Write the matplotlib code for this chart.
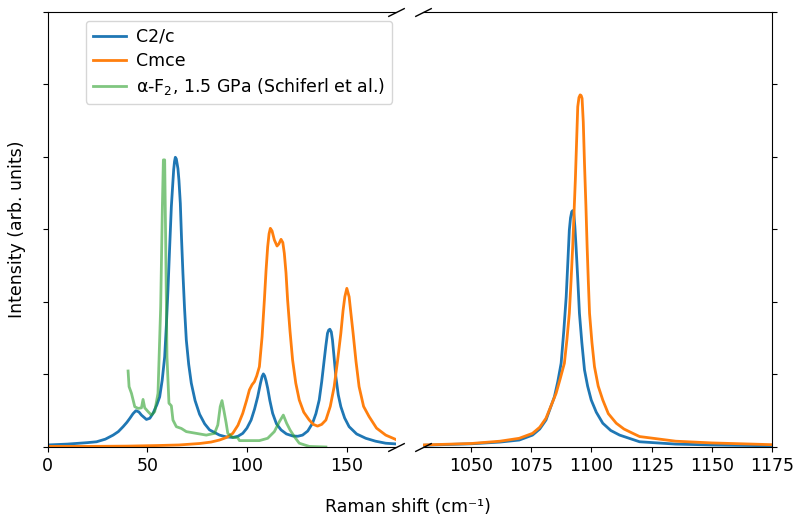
import matplotlib
matplotlib.use("Agg")
import matplotlib.pyplot as plt

# ---- data (Raman shift, normalised intensity) ----
c2c_low_x = [0, 10, 20, 24.6, 29, 32.9, 35.5, 37.9, 39.8, 41.3, 42.9, 44.3, 45.8, 47.1, 49.6, 51.3,
             52.9, 54.8, 56.25, 57.5, 58.75, 59.6, 60.4, 61.2, 62.1, 62.7, 63.25, 63.7, 64.1, 64.6,
             65.4, 65.9, 66.6, 67.2, 67.9, 68.7, 69.6, 70.8, 72.1, 74, 76.25, 78.8, 81.25, 86.25,
             89.5, 92.9, 95.5, 97.9, 100, 102.1, 103.8, 105.4, 106.8, 107.6, 108.25, 108.9, 109.6,
             110.4, 111.5, 112.9, 114.8, 117.1, 119.8, 122.9, 125.5, 127.9, 130.5, 132.9, 134.6,
             136.25, 137.5, 138.75, 139.6, 140.4, 141, 141.6, 142.3, 142.9, 143.7, 144.6, 145.8,
             147.1, 149, 151.25, 155, 159.6, 164.5, 169.6, 176]
c2c_low_y = [0.007, 0.010, 0.015, 0.018, 0.027, 0.041, 0.053, 0.070, 0.085, 0.099, 0.115, 0.125,
             0.121, 0.110, 0.095, 0.099, 0.116, 0.145, 0.173, 0.230, 0.311, 0.420, 0.541, 0.680,
             0.829, 0.895, 0.955, 0.985, 0.999, 0.993, 0.960, 0.920, 0.840, 0.720, 0.600, 0.480,
             0.369, 0.285, 0.220, 0.160, 0.113, 0.080, 0.059, 0.041, 0.035, 0.033, 0.037, 0.047,
             0.065, 0.093, 0.130, 0.173, 0.220, 0.243, 0.252, 0.245, 0.228, 0.203, 0.160, 0.116,
             0.080, 0.059, 0.045, 0.038, 0.037, 0.041, 0.055, 0.082, 0.115, 0.162, 0.225, 0.300,
             0.350, 0.392, 0.403, 0.406, 0.397, 0.369, 0.310, 0.242, 0.180, 0.139, 0.100, 0.070,
             0.045, 0.030, 0.020, 0.013, 0.010]

cmce_low_x = [0, 20, 40, 55, 66, 76.25, 82, 86.25, 89.8, 92.9, 95.5, 97.9, 99.8, 101.25, 102.6,
              103.75, 104.9, 106.25, 107.6, 108.75, 109.6, 110.4, 111.1, 111.75, 112.6, 113.75,
              115.1, 116, 117.1, 118, 118.75, 119.6, 120.4, 121.6, 122.9, 124.5, 126.25, 128.5,
              131.25, 133.3, 135.4, 137.5, 139.6, 141.8, 143.75, 145.5, 147.1, 148.2, 149.1, 150.1,
              151.25, 152, 153.25, 154.7, 156.25, 158.5, 161.25, 165, 169.6, 176]
cmce_low_y = [0.002, 0.002, 0.003, 0.005, 0.007, 0.012, 0.017, 0.024, 0.033, 0.047, 0.075, 0.116,
              0.160, 0.197, 0.215, 0.225, 0.245, 0.277, 0.380, 0.507, 0.610, 0.690, 0.735, 0.754,
              0.745, 0.714, 0.693, 0.700, 0.716, 0.705, 0.668, 0.600, 0.507, 0.400, 0.300, 0.220,
              0.162, 0.120, 0.093, 0.078, 0.072, 0.078, 0.093, 0.140, 0.208, 0.300, 0.392, 0.470,
              0.518, 0.547, 0.518, 0.470, 0.392, 0.295, 0.208, 0.140, 0.105, 0.065, 0.041, 0.022]

exp_x = [40.4, 40.9, 42.1, 43.75, 45.4, 47.1, 47.9, 48.75, 50.4, 52.1, 53.75, 55.4, 56.75, 57.6, 58.1,
         58.75, 59.25, 59.9, 60.9, 62.1, 62.9, 64.6, 67.1, 69.6, 74.6, 79.6, 83.75, 85.4, 86.6, 87.5,
         88.6, 89.6, 90.4, 92.9, 95.4, 96.25, 101.25, 106.25, 110.4, 113.75, 116.25, 118.25, 119.9,
         121.6, 123.75, 126.25, 131.25, 139.6]
exp_y = [0.262, 0.208, 0.185, 0.139, 0.133, 0.135, 0.164, 0.135, 0.122, 0.110, 0.122, 0.185, 0.484,
         0.829, 0.990, 0.990, 0.714, 0.311, 0.151, 0.142, 0.093, 0.070, 0.064, 0.053, 0.047, 0.041,
         0.047, 0.076, 0.139, 0.160, 0.120, 0.082, 0.047, 0.033, 0.032, 0.022, 0.022, 0.022, 0.030,
         0.053, 0.087, 0.110, 0.082, 0.059, 0.036, 0.013, 0.002, 0.000]

c2c_high_x = [1030, 1050, 1062, 1070, 1075.5, 1078.5, 1081.1, 1084.6, 1086, 1087.4, 1088.5, 1089.5,
              1090.2, 1090.8, 1091.3, 1091.8, 1092.2, 1092.6, 1093.1, 1093.6, 1094.3, 1095, 1096,
              1097.1, 1098.4, 1099.9, 1102, 1104.7, 1108, 1111.7, 1120, 1135, 1150, 1175]
c2c_high_y = [0.006, 0.011, 0.017, 0.024, 0.041, 0.062, 0.093, 0.173, 0.225, 0.289, 0.400, 0.518,
              0.640, 0.748, 0.790, 0.811, 0.815, 0.811, 0.760, 0.690, 0.580, 0.461, 0.360, 0.266,
              0.210, 0.162, 0.120, 0.082, 0.057, 0.041, 0.018, 0.010, 0.007, 0.004]

cmce_high_x = [1030, 1050, 1062, 1070, 1075.5, 1078.5, 1081.1, 1085.3, 1087, 1088.75, 1089.8, 1090.8,
               1091.5, 1092.2, 1093.3, 1094.3, 1094.8, 1095.3, 1095.7, 1096.1, 1096.6, 1097.1,
               1097.7, 1098.2, 1098.7, 1099.2, 1100.2, 1101.25, 1102.8, 1104.7, 1107, 1110.3,
               1113.5, 1117.2, 1120, 1135, 1150, 1175]
cmce_high_y = [0.007, 0.012, 0.020, 0.030, 0.047, 0.068, 0.099, 0.185, 0.235, 0.289, 0.370, 0.461,
               0.570, 0.690, 0.921, 1.173, 1.205, 1.214, 1.212, 1.202, 1.120, 0.978, 0.830, 0.690,
               0.570, 0.461, 0.360, 0.277, 0.210, 0.162, 0.115, 0.082, 0.062, 0.047, 0.036, 0.020,
               0.014, 0.008]

labels = ["C2/c", "Cmce", r"α-F$_2$, 1.5 GPa (Schiferl et al.)"]
left_ticks = [0, 50, 100, 150]
right_ticks = [1050, 1075, 1100, 1125, 1150, 1175]

plt.rcParams['font.size'] = 12.5

fig = plt.figure(figsize=(7.96, 5.2), dpi=100)
gs = fig.add_gridspec(1, 2, left=0.0597, right=0.9698, bottom=0.1404, top=0.977, wspace=0.076)
ax1 = fig.add_subplot(gs[0, 0])
ax2 = fig.add_subplot(gs[0, 1], sharey=ax1)

blue, orange = "tab:blue", "tab:orange"
lw = 2.0
l1, = ax1.plot(c2c_low_x, c2c_low_y, color=blue, lw=lw)
l2, = ax1.plot(cmce_low_x, cmce_low_y, color=orange, lw=lw)
l3, = ax1.plot(exp_x, exp_y, color="tab:green", alpha=0.6, lw=lw)
ax2.plot(c2c_high_x, c2c_high_y, color=blue, lw=lw)
ax2.plot(cmce_high_x, cmce_high_y, color=orange, lw=lw)

ax1.set_xlim(0, 175)
ax2.set_xlim(1030, 1175)
ax1.set_ylim(0, 1.5)
ax1.set_yticks([0, 0.25, 0.5, 0.75, 1.0, 1.25, 1.5])
ax1.set_xticks(left_ticks)
ax2.set_xticks(right_ticks)

ax1.spines['right'].set_visible(False)
ax2.spines['left'].set_visible(False)
ax1.tick_params(axis='y', labelleft=False)
ax2.yaxis.tick_right()
ax2.tick_params(axis='y', labelright=False, labelleft=False)

# break marks
d = 0.5
kw = dict(marker=[(-1, -d), (1, d)], markersize=12, linestyle="none",
          color='k', mec='k', mew=1, clip_on=False)
ax1.plot([1, 1], [0, 1], transform=ax1.transAxes, **kw)
ax2.plot([0, 0], [0, 1], transform=ax2.transAxes, **kw)

ax1.set_ylabel("Intensity (arb. units)")
ax1.yaxis.set_label_coords(-0.062, 0.5)
fig.text(0.513, 0.025, "Raman shift (cm⁻¹)", ha='center', va='center')

ax1.legend([l1, l2, l3], labels, loc='upper left', bbox_to_anchor=(0.085, 1.0),
           labelspacing=0.35, handletextpad=0.6, handlelength=1.9)

fig.savefig("out.png", dpi=100)
